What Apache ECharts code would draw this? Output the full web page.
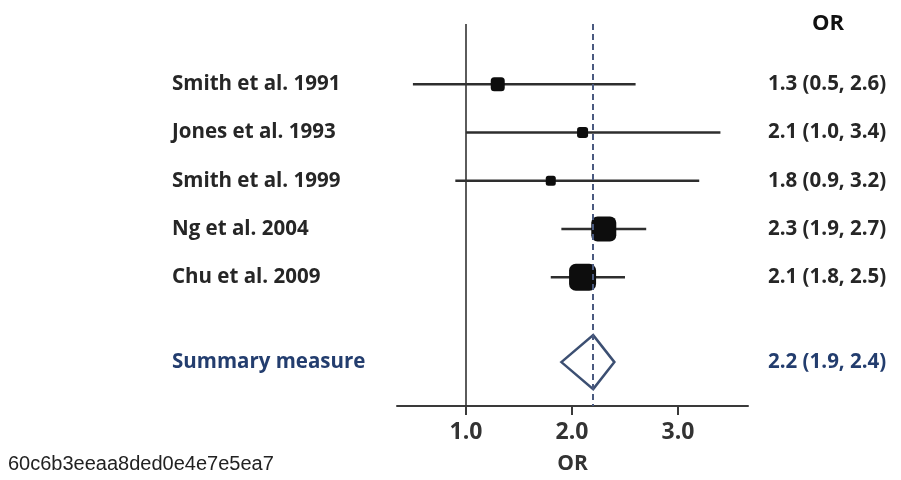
<!DOCTYPE html>
<html>
<head>
<meta charset="utf-8">
<script src="https://cdn.jsdelivr.net/npm/echarts@6/dist/echarts.min.js"></script>
<style>
  html, body { margin: 0; padding: 0; background: #fff; }
  #chart { width: 901px; height: 480px; }
</style>
</head>
<body>
<div id="chart"></div>
<script>
// Study-level odds ratios with 95% confidence intervals
const studies = ['Smith et al. 1991', 'Jones et al. 1993', 'Smith et al. 1999', 'Ng et al. 2004', 'Chu et al. 2009'];
const orValues = [1.3, 2.1, 1.8, 2.3, 2.1];
const ciLower = [0.5, 1.0, 0.9, 1.9, 1.8];
const ciUpper = [2.6, 3.4, 3.2, 2.7, 2.5];

// Pooled estimate
const summaryName = 'Summary measure';
const summaryOR = 2.2;
const summaryLower = 1.9;
const summaryUpper = 2.4;

// Axis
const xTicks = [1, 2, 3];
const nullValue = 1.0;
const axisTitle = 'OR';
const columnTitle = 'OR';
const caption = '60c6b3eeaa8ded0e4e7e5ea7';

// ---- layout / style ----
const squareSizes = [14, 11, 10, 25, 27];   // marker size reflects study weight
const SUMMARY_ROW = 5.76;
const LABEL_X = 172;
const VALUE_X = 768;
const FONT_FAMILY = '"Open Sans", Lato, sans-serif';
const TEXT_FONT = 'bold 20.5px ' + FONT_FAMILY;
const TEXT_DARK = '#262626';
const TEXT_NAVY = '#233d6e';

const fmt = v => v.toFixed(1);
const rowIdx = studies.map((_, i) => i);

const chart = echarts.init(document.getElementById('chart'));

chart.setOption({
  animation: false,
  backgroundColor: '#ffffff',
  grid: { left: 397, right: 153, top: 24, bottom: 74 },
  xAxis: {
    type: 'value',
    min: 0.35,
    max: 3.66,
    name: axisTitle,
    nameLocation: 'middle',
    nameGap: 48,
    nameTextStyle: { fontSize: 21, fontWeight: 'bold', color: '#333', fontFamily: FONT_FAMILY },
    splitLine: { show: false },
    axisLine: { show: true, onZero: false, lineStyle: { color: '#3a3a3a', width: 2 } },
    axisTick: { show: true, customValues: xTicks, length: 9, lineStyle: { color: '#3a3a3a', width: 2 } },
    axisLabel: {
      customValues: xTicks,
      formatter: v => fmt(v),
      margin: 15,
      fontSize: 23,
      fontWeight: 'bold',
      color: '#333',
      fontFamily: FONT_FAMILY
    }
  },
  yAxis: {
    type: 'value',
    inverse: true,
    min: -1.25,
    max: 6.67,
    show: false
  },
  graphic: [
    {
      type: 'text', left: 812, top: 13, silent: true,
      style: { text: columnTitle, font: 'bold 22px ' + FONT_FAMILY, fill: '#111' }
    },
    {
      type: 'text', left: 8, top: 454, silent: true,
      style: { text: caption, font: '20px "Liberation Sans", Arial, sans-serif', fill: '#222' }
    }
  ],
  series: [
    // Confidence interval whiskers
    {
      type: 'custom',
      z: 2,
      data: rowIdx.map(i => [ciLower[i], ciUpper[i], i]),
      renderItem: (params, api) => {
        const a = api.coord([api.value(0), api.value(2)]);
        const b = api.coord([api.value(1), api.value(2)]);
        return {
          type: 'line',
          shape: { x1: a[0], y1: a[1], x2: b[0], y2: b[1] },
          style: { stroke: '#2e2e2e', lineWidth: 2.6 }
        };
      },
      markLine: {
        silent: true,
        symbol: 'none',
        label: { show: false },
        data: [
          { xAxis: nullValue, lineStyle: { type: 'solid', color: '#333', width: 1.6 } },
          { xAxis: summaryOR, lineStyle: { type: [6, 4], color: '#4a5a80', width: 2 } }
        ]
      }
    },
    // Point estimates
    {
      type: 'scatter',
      z: 3,
      symbol: 'roundRect',
      data: rowIdx.map(i => ({
        value: [orValues[i], i],
        symbolSize: squareSizes[i]
      })),
      itemStyle: { color: '#0d0d0d', opacity: 1 }
    },
    // Summary diamond
    {
      type: 'custom',
      z: 4,
      data: [[summaryLower, summaryOR, summaryUpper, SUMMARY_ROW]],
      renderItem: (params, api) => {
        const y = api.value(3);
        const l = api.coord([api.value(0), y]);
        const c = api.coord([api.value(1), y]);
        const r = api.coord([api.value(2), y]);
        const h = 27;
        return {
          type: 'polygon',
          shape: { points: [[l[0], l[1]], [c[0], c[1] - h], [r[0], r[1]], [c[0], c[1] + h]] },
          style: { fill: '#ffffff', stroke: '#3c4f72', lineWidth: 2.5 }
        };
      }
    },
    // Study labels (left column) and OR text (right column)
    {
      type: 'custom',
      z: 5,
      data: rowIdx.map(i => [orValues[i], i]).concat([[summaryOR, SUMMARY_ROW]]),
      renderItem: (params, api) => {
        const idx = params.dataIndex;
        const p = api.coord([api.value(0), api.value(1)]);
        const isSummary = idx >= studies.length;
        const name = isSummary ? summaryName : studies[idx];
        const valText = isSummary
          ? `${fmt(summaryOR)} (${fmt(summaryLower)}, ${fmt(summaryUpper)})`
          : `${fmt(orValues[idx])} (${fmt(ciLower[idx])}, ${fmt(ciUpper[idx])})`;
        const color = isSummary ? TEXT_NAVY : TEXT_DARK;
        return {
          type: 'group',
          children: [
            {
              type: 'text', x: LABEL_X, y: p[1],
              style: { text: name, font: TEXT_FONT, fill: color, verticalAlign: 'middle', align: 'left' }
            },
            {
              type: 'text', x: VALUE_X, y: p[1],
              style: { text: valText, font: TEXT_FONT, fill: color, verticalAlign: 'middle', align: 'left' }
            }
          ]
        };
      }
    }
  ]
});
</script>
</body>
</html>
